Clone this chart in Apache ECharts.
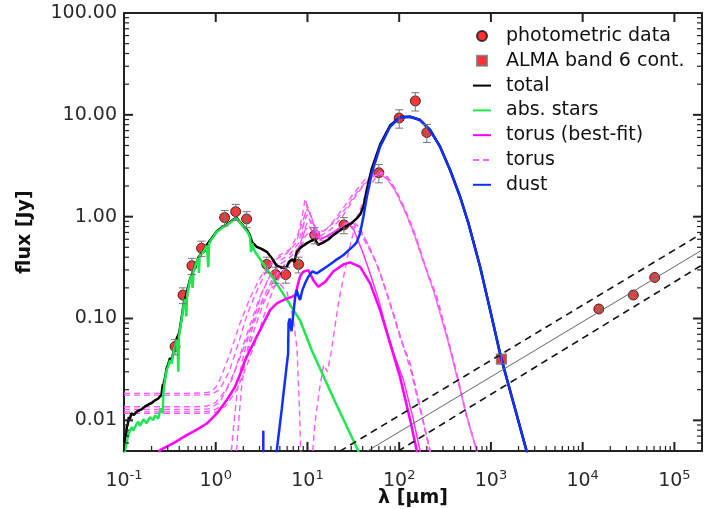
<!DOCTYPE html>
<html><head><meta charset="utf-8">
<script src="https://cdn.jsdelivr.net/npm/echarts@6/dist/echarts.min.js"></script>
<style>html,body{margin:0;padding:0;background:#fff}#c{width:708px;height:509px}</style>
</head><body><div id="c"></div>
<script>
// ---------------- data ----------------
const photWave = [0.36,0.44,0.55,0.70,1.25,1.65,2.17,3.6,4.5,5.8,8.0,12,25,60,100,150,200,15000,35700,61000];
const photFlux = [0.053,0.17,0.33,0.49,0.98,1.12,0.95,0.34,0.27,0.27,0.34,0.66,0.83,2.7,9.3,13.7,6.7,0.124,0.17,0.253];
const photErr  = [0.009,0.03,0.06,0.085,0.17,0.2,0.17,0.06,0.048,0.048,0.06,0.12,0.15,0.55,1.9,2.8,1.35,0.006,0.009,0.013];
const almaWave = [1300];
const almaFlux = [0.040];
const almaErr  = [0.004];

const totalSed = [[0.100,0.0048],[0.1015,0.0060],[0.103,0.0072],[0.105,0.0068],[0.107,0.0085],[0.110,0.0092],[0.113,0.0108],[0.116,0.0103],[0.120,0.0117],[0.124,0.0119],[0.128,0.0113],[0.133,0.0118],[0.14,0.0123],[0.147,0.0126],[0.155,0.0128],[0.163,0.0133],[0.172,0.0138],[0.18,0.0136],[0.19,0.0145],[0.2,0.0148],[0.21,0.0152],[0.22,0.0158],[0.235,0.0163],[0.247,0.0170],[0.256,0.0178],[0.262,0.0175],[0.265,0.0225],[0.268,0.0195],[0.272,0.0235],[0.28,0.0262],[0.292,0.0325],[0.305,0.036],[0.318,0.041],[0.331,0.039],[0.35,0.049],[0.376,0.064],[0.4,0.072],[0.42,0.095],[0.444,0.134],[0.47,0.162],[0.5,0.205],[0.525,0.243],[0.56,0.282],[0.6,0.335],[0.65,0.40],[0.7,0.437],[0.733,0.46],[0.8,0.53],[0.9,0.61],[1.03,0.72],[1.2,0.80],[1.32,0.84],[1.45,0.89],[1.56,0.94],[1.69,0.975],[1.8,0.90],[2.0,0.81],[2.2,0.74],[2.35,0.66],[2.5,0.56],[2.8,0.506],[3.2,0.48],[3.6,0.452],[4.1,0.39],[4.62,0.33],[5.3,0.315],[5.94,0.318],[6.3,0.36],[6.8,0.38],[7.2,0.36],[7.64,0.452],[8.5,0.5],[9.8,0.547],[11,0.58],[12.1,0.6],[13.1,0.53],[15,0.56],[17,0.6],[19.1,0.659],[22,0.72],[25.7,0.796],[30,0.86],[34.5,0.962],[37.5,1.05],[40.7,1.25],[44.4,1.85],[50.2,2.95],[61.9,5.1],[79.6,7.85],[102,9.5],[132,9.57],[169,8.89],[217,7.1],[279,4.87],[359,2.87],[461,1.57],[569,0.86],[762,0.322],[1000,0.112],[1282,0.042],[1800,0.0138],[2404,0.0053],[2600,0.004]];

const starsSed = [[0.100,0.0042],[0.1025,0.0051],[0.106,0.0058],[0.109,0.0066],[0.1115,0.0069],[0.115,0.0078],[0.1214,0.0086],[0.126,0.0079],[0.1318,0.0080],[0.137,0.0092],[0.1432,0.0097],[0.149,0.0088],[0.156,0.0090],[0.163,0.0102],[0.1695,0.0104],[0.176,0.0094],[0.184,0.0097],[0.192,0.0107],[0.2005,0.0108],[0.209,0.0101],[0.218,0.0112],[0.227,0.0113],[0.2367,0.0104],[0.244,0.0118],[0.2513,0.0131],[0.258,0.0125],[0.2643,0.0117],[0.2683,0.0184],[0.274,0.0215],[0.280,0.0248],[0.292,0.0311],[0.305,0.0345],[0.318,0.039],[0.331,0.0362],[0.345,0.046],[0.360,0.055],[0.376,0.0614],[0.386,0.045],[0.391,0.030],[0.397,0.066],[0.42,0.092],[0.444,0.13],[0.465,0.155],[0.478,0.105],[0.488,0.17],[0.505,0.2],[0.525,0.238],[0.545,0.265],[0.560,0.2],[0.572,0.29],[0.6,0.33],[0.621,0.36],[0.645,0.39],[0.656,0.28],[0.668,0.41],[0.70,0.43],[0.733,0.452],[0.77,0.49],[0.80,0.52],[0.83,0.32],[0.845,0.54],[0.9,0.6],[0.95,0.64],[1.03,0.711],[1.1,0.74],[1.2,0.79],[1.32,0.827],[1.45,0.875],[1.56,0.926],[1.69,0.962],[1.8,0.89],[1.9,0.84],[2.0,0.796],[2.13,0.74],[2.27,0.686],[2.37,0.62],[2.43,0.45],[2.50,0.55],[2.57,0.489],[2.68,0.452],[4.62,0.22],[8.3,0.096],[11.1,0.049],[20,0.0152],[35.9,0.005],[38,0.0045]];

const torusFit = [[0.235,0.0046],[0.247,0.0051],[0.35,0.006],[0.483,0.00716],[0.65,0.0083],[0.798,0.0093],[1.03,0.0117],[1.32,0.0158],[1.62,0.0213],[1.92,0.0311],[2.09,0.039],[2.37,0.049],[3.04,0.0769],[3.91,0.121],[4.6,0.14],[5.46,0.152],[6.74,0.163],[7.4,0.17],[7.9,0.22],[8.4,0.265],[9.0,0.288],[10.2,0.299],[11.6,0.238],[13.1,0.205],[13.7,0.205],[15.6,0.229],[19.1,0.29],[24.7,0.34],[29.1,0.356],[37.5,0.322],[48.2,0.221],[61.9,0.121],[79.6,0.0569],[102,0.0267],[132,0.01],[155,0.0051],[160,0.0045]];

const dustPah = [[3.3,0.004],[3.3,0.0079]];
const dustSed = [[4.5,0.004],[4.62,0.005],[5.25,0.013],[5.9,0.033],[6.15,0.045],[6.22,0.09],[6.4,0.1],[6.7,0.075],[7.0,0.11],[7.35,0.163],[7.64,0.19],[7.9,0.17],[8.3,0.152],[8.8,0.19],[9.4,0.221],[10.2,0.257],[11.3,0.29],[11.7,0.282],[12.6,0.277],[14,0.295],[16.2,0.322],[20,0.37],[24.7,0.42],[29,0.48],[32,0.52],[34.4,0.56],[37.5,0.69],[40.7,1.0],[44.4,1.57],[50.2,2.66],[61.9,4.87],[79.6,7.64],[102,9.44],[132,9.57],[169,8.89],[217,7.1],[279,4.87],[359,2.87],[461,1.57],[569,0.86],[762,0.322],[1000,0.112],[1282,0.042],[1800,0.0138],[2404,0.0053],[2600,0.004]];

const torus1 = [[0.1,0.0184],[0.5,0.0184],[0.75,0.0186],[0.87,0.019],[1.0,0.021],[1.11,0.025],[1.43,0.045],[1.84,0.09],[2.37,0.16],[3.04,0.25],[3.91,0.35],[5.0,0.42],[6.5,0.48],[8.0,0.7],[9.0,1.15],[9.4,1.5],[10.2,1.2],[11.5,0.85],[13,0.7],[16,0.75],[20,0.95],[25,1.25],[32,1.7],[42,2.3],[55,2.65],[62,2.75],[70,2.6],[86.5,2.0],[100,1.55],[121,1.08],[156,0.6],[184,0.36],[257,0.165],[359,0.053],[461,0.0213],[546,0.0108],[702,0.0051],[760,0.004]];
const torus2 = [[0.1,0.0177],[0.7,0.0177],[0.9,0.018],[1.1,0.02],[1.4,0.03],[1.8,0.06],[2.2,0.11],[2.9,0.2],[3.6,0.3],[4.5,0.38],[6,0.44],[7.5,0.55],[9,0.95],[10,1.2],[11,1.0],[12.5,0.75],[15,0.72],[20,0.9],[26,1.2],[34,1.7],[45,2.3],[58,2.6],[66,2.6],[80,2.15],[95,1.65],[115,1.15],[150,0.62],[180,0.38],[250,0.17],[350,0.056],[450,0.023],[540,0.0115],[690,0.0053],[740,0.004]];
const torus3 = [[0.1,0.0136],[0.6,0.0136],[0.8,0.0138],[1.0,0.015],[1.3,0.02],[1.6,0.03],[2.0,0.05],[2.5,0.09],[3.2,0.18],[4,0.28],[5,0.37],[6.5,0.43],[8,0.55],[9.2,0.9],[10,1.05],[11,0.85],[12.5,0.65],[15,0.62],[19,0.7],[24,0.82],[29,0.88],[35,0.82],[45,0.55],[57,0.34],[70,0.2],[86.5,0.11],[105,0.06],[132,0.036],[169,0.0136],[217,0.0051],[235,0.004]];
const torus4 = [[0.1,0.0128],[0.65,0.0128],[0.85,0.013],[1.1,0.015],[1.5,0.025],[1.9,0.048],[2.4,0.09],[3,0.16],[3.8,0.25],[5,0.34],[6.5,0.4],[8,0.5],[9.5,0.75],[10.5,0.8]];
const torus4Mir = [[10.5,0.8],[12,0.65],[14,0.6],[18,0.68],[23,0.78],[28,0.85],[32,0.74],[40,0.45],[48,0.28],[60,0.15],[73,0.077],[90,0.042],[111,0.025],[140,0.011],[169,0.005],[180,0.004]];
const torus5 = [[0.1,0.0121],[0.7,0.0121],[0.9,0.0123],[1.2,0.014],[1.6,0.02],[2.1,0.038],[2.6,0.075],[3.3,0.14],[4.2,0.23],[5.3,0.32],[6.8,0.38],[8.2,0.45],[9.5,0.65],[10.5,0.7],[12,0.6],[15,0.58],[20,0.7],[25,0.85],[30,0.9],[38,0.75],[50,0.45],[60,0.3],[75,0.17],[90,0.1],[110,0.055],[135,0.03],[170,0.0125],[215,0.0052],[230,0.004]];
const torus6 = [[0.1,0.0117],[0.75,0.0117],[1.0,0.012],[1.3,0.014],[1.7,0.02],[2.2,0.035],[2.9,0.07],[3.5,0.12],[4.3,0.2],[5.5,0.3],[7,0.38],[8.5,0.5],[9.5,0.8],[10.5,0.95],[12,0.75],[14,0.65],[18,0.75],[24,1.0],[32,1.5],[42,2.1],[55,2.55],[63,2.6],[75,2.3],[90,1.8],[110,1.25],[140,0.75],[180,0.38],[240,0.18],[340,0.06],[440,0.024],[530,0.012],[680,0.0055],[730,0.004]];
const torus7a = [[1.45,0.004],[1.55,0.008],[1.7,0.018],[1.9,0.035],[2.3,0.07],[3,0.13],[4,0.2],[5,0.22],[6,0.18],[7,0.1],[7.7,0.05],[8.2,0.012],[8.5,0.004]];
const torus7b = [[11.2,0.004],[12,0.009],[13.5,0.02],[15,0.035],[16.5,0.03],[18,0.045],[22,0.15],[28,0.45],[35,1.0],[45,1.8],[55,2.4],[64,2.7],[75,2.45],[90,1.9],[110,1.3],[140,0.78],[180,0.4],[250,0.16],[350,0.055],[450,0.022],[540,0.011],[700,0.005],[750,0.004]];
const torus8 = [[1.65,0.004],[1.75,0.008],[1.9,0.02],[2.1,0.04],[2.5,0.08],[3.2,0.15],[4.2,0.25],[5.5,0.33],[7,0.38],[8.5,0.55],[9.5,1.1],[9.9,1.3],[11,1.0],[12.5,0.7],[15,0.62],[19,0.68],[24,0.78],[28,0.82],[34,0.78],[42,0.58],[57,0.35],[70,0.2],[86,0.11],[105,0.062],[130,0.037],[165,0.0145],[210,0.0055],[225,0.004]];

const radioFit   = [[44.7,0.00498],[2e5,0.470]];
const radioUpper = [[22.6,0.00498],[2e5,0.685]];
const radioLower = [[97.3,0.00498],[2e5,0.335]];

const xRange = [0.1, 2e5];
const yRange = [0.005, 100];
const xDecades = [0.1, 1, 10, 100, 1e3, 1e4, 1e5];      // major x ticks (labels 10^-1 .. 10^5)
const yDecades = [0.01, 0.1, 1, 10, 100];               // major y ticks
const yMinorDecades = [0.001, 0.01, 0.1, 1, 10];
const mantissas = [2,3,4,5,6,7,8,9];

// ---------------- chart ----------------
const FONT = 'DejaVu Sans';
const chart = echarts.init(document.getElementById('c'), null, {renderer:'canvas'});

function ln(name, data, color, width, type) {
  return {type:'line', name, data, symbol:'none', showSymbol:false, silent:true, clip:true,
    lineStyle:{color, width, type: type || 'solid'}, itemStyle:{color}, emphasis:{disabled:true}};
}
const TORUS_C = '#ff5cff';
const DASH = [6,4];

const photData = photWave.map((w,i)=>[w, photFlux[i]]);
const almaData = almaWave.map((w,i)=>[w, almaFlux[i]]);
const errData = photWave.map((w,i)=>[w, photFlux[i], photErr[i]])
  .concat(almaWave.map((w,i)=>[w, almaFlux[i], almaErr[i]]));

// tick marks (axis scaffolding): [x, y, isMajor]
const inX = v => v > xRange[0]*0.999 && v < xRange[1];
const inY = v => v > yRange[0] && v <= yRange[1]*1.001;
const xTickData = xDecades.filter(inX).map(v=>[v, 1, 1]);
xDecades.forEach(d=>mantissas.forEach(m=>{ const v=m*d; if(inX(v)) xTickData.push([v, 1, 0]); }));
const yTickData = yDecades.filter(inY).map(v=>[1, v, 1]);
yMinorDecades.forEach(d=>mantissas.forEach(m=>{ const v=m*d; if(inY(v)) yTickData.push([1, v, 0]); }));

const MAJ = 9, MIN = 5;
const tickCol = '#222';
const axisLineStyle = {color:'#222', width:2};

const option = {
  animation:false,
  backgroundColor:'#fff',
  grid:{left:124, right:6, top:13, bottom:58, containLabel:false, outerBoundsMode:'none'},
  legend:{
    orient:'vertical', left:467, top:21, itemWidth:18, itemHeight:10, itemGap:4.8,
    selectedMode:false, symbolKeepAspect:true,
    textStyle:{fontFamily:FONT, fontSize:19, color:'#111', lineHeight:20, padding:[0,0,0,10]},
    data:[
      {name:'photometric data'},
      {name:'ALMA band 6 cont.', icon:'path://M0,0L10,0L10,10L0,10Z'},
      {name:'total', itemStyle:{opacity:0}},
      {name:'abs. stars', itemStyle:{opacity:0}},
      {name:'torus (best-fit)', itemStyle:{opacity:0}},
      {name:'torus', itemStyle:{opacity:0}},
      {name:'dust', itemStyle:{opacity:0}}
    ]
  },
  xAxis:[
    {type:'log', min:xRange[0], max:xRange[1], position:'bottom',
     axisLine:{show:true, onZero:false, lineStyle:axisLineStyle},
     axisTick:{show:false}, minorTick:{show:false},
     splitLine:{show:false}, minorSplitLine:{show:false},
     axisLabel:{margin:18, showMaxLabel:false,
       formatter:v=>'{b|10}{s|'+Math.round(Math.log10(v))+'}',
       rich:{b:{fontFamily:FONT, fontSize:19, color:'#2a2a2a', lineHeight:22, verticalAlign:'bottom'},
             s:{fontFamily:FONT, fontSize:13, color:'#2a2a2a', lineHeight:12, verticalAlign:'top'}}},
     name:'λ [μm]', nameLocation:'middle', nameGap:38, nameMoveOverlap:false,
     nameTextStyle:{fontFamily:FONT, fontSize:19, fontWeight:'bold', color:'#111'}},
    {type:'log', min:xRange[0], max:xRange[1], position:'top',
     axisLine:{show:true, onZero:false, lineStyle:axisLineStyle},
     axisTick:{show:false}, axisLabel:{show:false}, splitLine:{show:false}}
  ],
  yAxis:[
    {type:'log', min:yRange[0], max:yRange[1], position:'left',
     axisLine:{show:true, onZero:false, lineStyle:axisLineStyle},
     axisTick:{show:false}, minorTick:{show:false},
     splitLine:{show:false}, minorSplitLine:{show:false},
     axisLabel:{margin:7, showMinLabel:false, formatter:v=>v.toFixed(2),
       fontFamily:FONT, fontSize:19, color:'#2a2a2a'},
     name:'flux [Jy]', nameLocation:'middle', nameGap:89, nameRotate:90, nameMoveOverlap:false,
     nameTextStyle:{fontFamily:FONT, fontSize:19, fontWeight:'bold', color:'#111'}},
    {type:'log', min:yRange[0], max:yRange[1], position:'right',
     axisLine:{show:true, onZero:false, lineStyle:axisLineStyle},
     axisTick:{show:false}, axisLabel:{show:false}, splitLine:{show:false}}
  ],
  series:[
    ln('torus', torus1, TORUS_C, 1.4, DASH),
    ln('torus', torus2, TORUS_C, 1.4, DASH),
    ln('torus', torus3, TORUS_C, 1.4, DASH),
    ln('torus', torus4, TORUS_C, 1.4, DASH),
    ln('torus', torus5, TORUS_C, 1.4, DASH),
    ln('torus', torus6, TORUS_C, 1.4, DASH),
    ln('torus', torus7a, TORUS_C, 1.4, DASH),
    ln('torus', torus7b, TORUS_C, 1.4, DASH),
    ln('torus', torus8, TORUS_C, 1.4, DASH),
    ln('torus-mir', torus4Mir, '#ff33ff', 1.5),
    ln('total', totalSed, '#000000', 2.5),
    ln('abs. stars', starsSed, '#1ee850', 2.5),
    ln('torus (best-fit)', torusFit, '#ff00ff', 2.5),
    ln('dust', dustSed, '#1030ff', 2.5),
    ln('dust', dustPah, '#1030ff', 2.5),
    ln('radio fit', radioFit, '#666666', 1),
    ln('radio upper', radioUpper, '#111111', 1.6, [7,5]),
    ln('radio lower', radioLower, '#111111', 1.6, [7,5]),
    {type:'scatter', name:'photometric data', data:photData, symbol:'circle', symbolSize:10, silent:true,
     itemStyle:{color:'#ff0000', borderColor:'#111', borderWidth:1}},
    {type:'scatter', name:'ALMA band 6 cont.', data:almaData, symbol:'rect', symbolSize:10, silent:true,
     itemStyle:{color:'#ff0000', borderColor:'#777', borderWidth:1.2}},
    {type:'custom', name:'errors', data:errData, silent:true, z:5,
     encode:{x:0, y:1},
     renderItem:(params, api)=>{
       const x = api.value(0), y = api.value(1), e = api.value(2);
       const p1 = api.coord([x, y + e]);
       const p2 = api.coord([x, y - e]);
       const w = 4;
       const st = {stroke:'#777', lineWidth:1};
       return {type:'group', children:[
         {type:'line', shape:{x1:p1[0], y1:p1[1], x2:p2[0], y2:p2[1]}, style:st},
         {type:'line', shape:{x1:p1[0]-w, y1:p1[1], x2:p1[0]+w, y2:p1[1]}, style:st},
         {type:'line', shape:{x1:p2[0]-w, y1:p2[1], x2:p2[0]+w, y2:p2[1]}, style:st}
       ]};
     }},
    {type:'custom', name:'xticks', data:xTickData, silent:true, clip:false, z:6,
     encode:{x:0, y:1},
     renderItem:(params, api)=>{
       const v = api.value(0);
       const major = api.value(2) === 1;
       const pb = api.coord([v, yRange[0]]);
       const pt = api.coord([v, yRange[1]]);
       const L = major ? MAJ : MIN;
       const st = {stroke:tickCol, lineWidth: major ? 2 : 1.2};
       const ch = [{type:'line', shape:{x1:pb[0], y1:pb[1], x2:pb[0], y2:pb[1]-L}, style:st}];
       if (major) ch.push({type:'line', shape:{x1:pt[0], y1:pt[1], x2:pt[0], y2:pt[1]+L}, style:st});
       return {type:'group', children:ch};
     }},
    {type:'custom', name:'yticks', data:yTickData, silent:true, clip:false, z:6,
     encode:{x:0, y:1},
     renderItem:(params, api)=>{
       const v = api.value(1);
       const major = api.value(2) === 1;
       const pl = api.coord([xRange[0], v]);
       const pr = api.coord([xRange[1], v]);
       const L = major ? MAJ : MIN;
       const st = {stroke:tickCol, lineWidth: major ? 2 : 1.2};
       return {type:'group', children:[
         {type:'line', shape:{x1:pl[0], y1:pl[1], x2:pl[0]+L, y2:pl[1]}, style:st},
         {type:'line', shape:{x1:pr[0], y1:pr[1], x2:pr[0]-L, y2:pr[1]}, style:st}
       ]};
     }}
  ]
};
chart.setOption(option);
</script>
</body></html>
